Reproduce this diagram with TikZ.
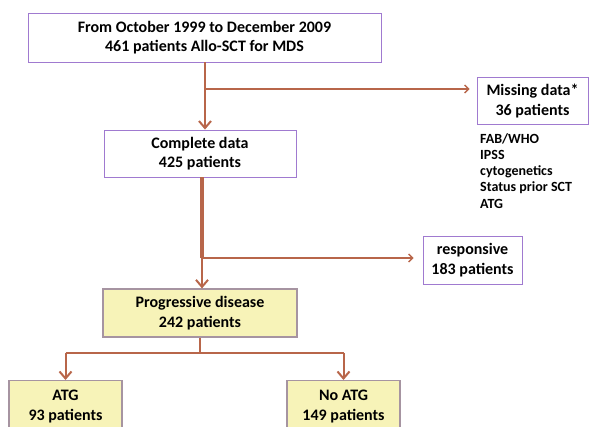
\documentclass[tikz,border=0pt]{standalone}
\usepackage{fontspec}
\setmainfont{Carlito}
\usetikzlibrary{arrows.meta}
\definecolor{arr}{HTML}{B8664A}
\definecolor{pbord}{HTML}{A07AD0}
\definecolor{yfill}{HTML}{F7F3B8}
\tikzset{
  box/.style={draw=pbord, line width=0.9pt, fill=white, inner sep=0pt, font=\bfseries\fontsize{16}{19.5}\selectfont, align=center},
  ybox/.style={box, fill=yfill, draw=pbord!70!black!60!yfill, line width=1.2pt},
  conn/.style={draw=arr, line width=2pt, -{Straight Barb[length=7pt,width=12pt,line width=2pt]}},
  thin/.style={draw=arr, line width=1.3pt, -{Straight Barb[length=4pt,width=8pt,line width=1.3pt]}},
  lst/.style={font=\bfseries\fontsize{14}{16.3}\selectfont, align=left, inner sep=0pt}
}
\begin{document}
\begin{tikzpicture}[x=1pt,y=-1pt]
\useasboundingbox (0,0) rectangle (589,426);
\node[box, minimum width=353pt, minimum height=49pt] (top) at (204.5,37.5) {From October 1999 to December 2009\\461 patients Allo-SCT for MDS};
\node[box, minimum width=111pt, minimum height=47pt] (miss) at (532.5,101) {Missing data*\\36 patients};
\node[lst, anchor=north west] (list) at (480,133) {FAB/WHO\\IPSS\\cytogenetics\\Status prior SCT\\ATG};
\node[box, minimum width=192pt, minimum height=47pt] (comp) at (200,153.5) {Complete data\\425 patients};
\node[box, minimum width=99pt, minimum height=48pt] (resp) at (472.5,260) {responsive\\183 patients};
\node[ybox, minimum width=194pt, minimum height=48pt] (prog) at (200,313) {Progressive disease\\242 patients};
\node[ybox, minimum width=113pt, minimum height=52pt, anchor=north] (atg) at (65.5,380) {ATG\\93 patients};
\node[ybox, minimum width=113pt, minimum height=52pt, anchor=north] (noatg) at (343.5,380) {No ATG\\149 patients};
\coordinate (b1) at (205,89);
\coordinate (b2) at (202,258);
\coordinate (split) at (200,353);
\draw[conn] (top.south -| b1) -- (comp.north -| b1);
\draw[thin] (b1) -- ([xshift=-7pt]miss.west |- b1);
\draw[draw=arr, line width=3.5pt] (comp.south -| b2) -- (b2);
\draw[conn] (b2) -- (prog.north -| b2);
\draw[thin] (b2) -- ([xshift=-9pt]resp.west |- b2);
\draw[draw=arr, line width=2pt] (prog.south) -- (split);
\draw[draw=arr, line width=2pt] (atg.north |- split) -- (noatg.north |- split);
\draw[conn] (atg.north |- split) -- (atg.north);
\draw[conn] (noatg.north |- split) -- (noatg.north);
\end{tikzpicture}
\end{document}
